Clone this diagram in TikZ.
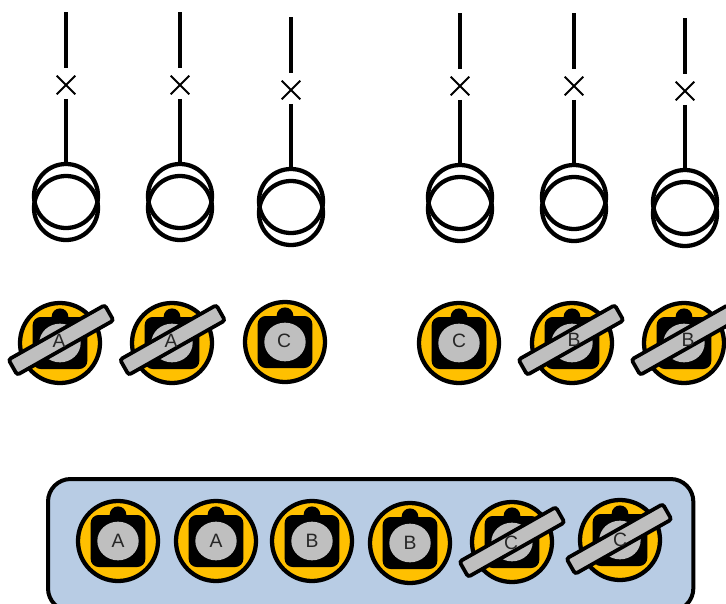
\documentclass[tikz,border=0pt]{standalone}
\usepackage{fontspec}
\setmainfont{Liberation Sans}
\usetikzlibrary{shapes.geometric, shapes.misc}
\definecolor{lockyellow}{RGB}{255,192,0}
\definecolor{lockgrey}{RGB}{191,191,191}
\definecolor{panelblue}{RGB}{184,204,228}

\begin{document}
\begin{tikzpicture}[
    x=0.75pt, y=-0.75pt,
    % Node styles
    breaker/.style={cross out, draw, line width=1.4pt, minimum size=14pt, inner sep=0pt, outer sep=0pt},
    coil/.style={circle, draw, line width=3.2pt, minimum size=48pt, inner sep=0pt, outer sep=0pt},
    lockbody/.style={circle, draw, line width=3.2pt, fill=lockyellow, minimum size=60pt, inner sep=0pt},
    lockplate/.style={rectangle, fill=black, rounded corners=6pt, minimum width=41pt, minimum height=39pt, inner sep=0pt},
    lockknob/.style={circle, fill=black, minimum size=12.5pt, inner sep=0pt},
    lockface/.style={ellipse, fill=lockgrey, minimum width=31pt, minimum height=29pt, inner sep=0pt},
    lockbar/.style={rectangle, draw, line width=2.8pt, fill=lockgrey, rounded corners=2pt, rotate=29.5, minimum width=83pt, minimum height=13.2pt, inner sep=0pt},
    lockletter/.style={font=\fontsize{14.5}{14.5}\selectfont, text=black!85, inner sep=0pt},
    panel/.style={draw, line width=3pt, fill=panelblue, rounded corners=17pt, outer sep=0pt},
    % Edge styles
    feeder/.style={draw, line width=2.6pt}
]
\useasboundingbox (0,0) rectangle (726,604);
\clip (0,0) rectangle (726,604);

% Panel
\node[panel, minimum width=484pt, minimum height=99pt, anchor=north west] (panel) at (48,479) {};

% Feeders
\foreach \nm/\px/\py in {1/66/12, 2/180/12, 3/291/17, 4/460/13, 5/574/13, 6/685/18} {
    \coordinate (top\nm) at (\px,\py);
    \node[breaker] (cb\nm) at (\px,\py+73) {};
    \node[coil] (lower\nm) at (\px,\py+196) {};
    \node[coil] (upper\nm) at (\px,\py+184) {};
    \draw[feeder, shorten >=5.4pt] (top\nm) -- (cb\nm);
    \draw[feeder, shorten <=3.4pt] (cb\nm) -- (upper\nm);
}

% Locks
\foreach \nm/\px/\py in {a1/60/343, a2/172/343, c3/285/342, c4/459/343, b5/572/343, b6/684/343,
                         a7/118/541, a8/216/541, b9/312/541, b10/410/543, c11/512/542, c12/620/540} {
    \node[lockbody] (\nm) at (\px,\py) {};
    \node[lockplate] (\nm plate) at (\nm) {};
    \node[lockknob] (\nm knob) at (\nm plate.north) {};
    \node[lockface] (\nm face) at (\nm) {};
}

% Bars
\foreach \nm/\px/\py in {a1/61/340, a2/172.5/340, b5/571/340, b6/684/340, c11/512/542, c12/619/539} {
    \node[lockbar] (\nm bar) at (\px,\py) {};
}

% Letters
\foreach \nm/\px/\py/\letter in {a1/59/341/A, a2/171/341/A, c3/284/341/C, c4/459/341/C, b5/574/339.5/B, b6/688/339.5/B,
                                 a7/118/541/A, a8/216/541/A, b9/312/541/B, b10/410/543/B, c11/511/542.5/C, c12/620/540/C} {
    \node[lockletter] (\nm letter) at (\px,\py) {\letter};
}

\end{tikzpicture}
\end{document}
